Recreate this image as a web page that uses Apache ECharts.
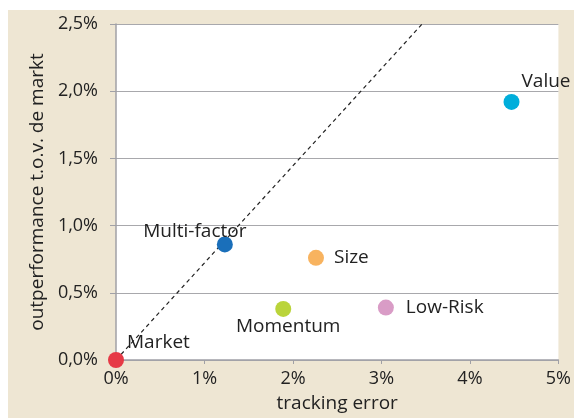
<!DOCTYPE html>
<html><head><meta charset="utf-8">
<script src="https://cdn.jsdelivr.net/npm/echarts@6/dist/echarts.min.js"></script>
<style>html,body{margin:0;padding:0;background:#fff}#c{width:574px;height:418px}</style>
</head><body><div id="c"></div>
<script>
var names = ['Market','Multi-factor','Size','Momentum','Low-Risk','Value'];
var trackingError = [0, 1.23, 2.26, 1.89, 3.05, 4.47];
var outperformance = [0, 0.86, 0.76, 0.38, 0.39, 1.92];
var colors = ['#e63a46','#1a6fba','#f8b35f','#bad43a','#d99cc6','#00aedb'];
var xTicks = [0,1,2,3,4,5];
var yTicks = [0,0.5,1,1.5,2,2.5];
var lineX = [0, 3.46];
var lineY = [0, 2.5];

var labelCfg = {
  'Market': {position:'right', offset:[-2,-17]},
  'Multi-factor': {position:'top', offset:[-30,10]},
  'Size': {position:'right', offset:[5,0]},
  'Momentum': {position:'bottom', offset:[5,-5]},
  'Low-Risk': {position:'right', offset:[7,0]},
  'Value': {position:'right', offset:[-3,-20]}
};

var pts = names.map(function(n,i){
  return {name:n, value:[trackingError[i], outperformance[i]],
    itemStyle:{color:colors[i], opacity:1},
    label:Object.assign({show:true, formatter:n}, labelCfg[n])};
});

var chart = echarts.init(document.getElementById('c'));
var FONT = 'Open Sans';
var TXT = '#222';
chart.setOption({
  animation:false,
  graphic:[{type:'rect', z:-10, shape:{x:8,y:10,width:566,height:408}, style:{fill:'#eee6d3'}}],
  grid:{left:116,right:8,top:24,bottom:51,show:true,backgroundColor:'#fff',borderWidth:0},
  xAxis:{type:'value',min:0,max:5,interval:1,
    name:'tracking error',nameLocation:'middle',nameGap:34,
    nameTextStyle:{fontFamily:FONT,fontSize:19,color:TXT},
    axisLine:{show:true,lineStyle:{color:'#a0a0a6',width:1.5}},
    axisTick:{show:true,length:4,lineStyle:{color:'#a0a0a6'}},
    splitLine:{show:false},
    axisLabel:{fontFamily:FONT,fontSize:18,color:TXT,margin:10,
      formatter:function(v){return v+'%';}}},
  yAxis:{type:'value',min:0,max:2.5,interval:0.5,
    name:'outperformance t.o.v. de markt',nameLocation:'middle',nameGap:62,
    nameTextStyle:{fontFamily:FONT,fontSize:19,color:TXT},
    axisLine:{show:true,lineStyle:{color:'#a0a0a6',width:1.5}},
    axisTick:{show:true,length:6,lineStyle:{color:'#a0a0a6'}},
    splitLine:{show:true,lineStyle:{color:'#a8a8ac',width:1.2}},
    axisLabel:{fontFamily:FONT,fontSize:18,color:TXT,margin:18,
      formatter:function(v){return v.toFixed(1).replace('.',',')+'%';}}},
  series:[
    {type:'line',data:lineX.map(function(x,i){return [x,lineY[i]];}),
     symbol:'none',lineStyle:{color:'#222',width:1.2,type:[4,3.5]},z:2,silent:true},
    {type:'scatter',symbolSize:16,data:pts,z:3,
     label:{fontFamily:FONT,fontSize:19,color:TXT,distance:5}}
  ]
});
</script></body></html>
